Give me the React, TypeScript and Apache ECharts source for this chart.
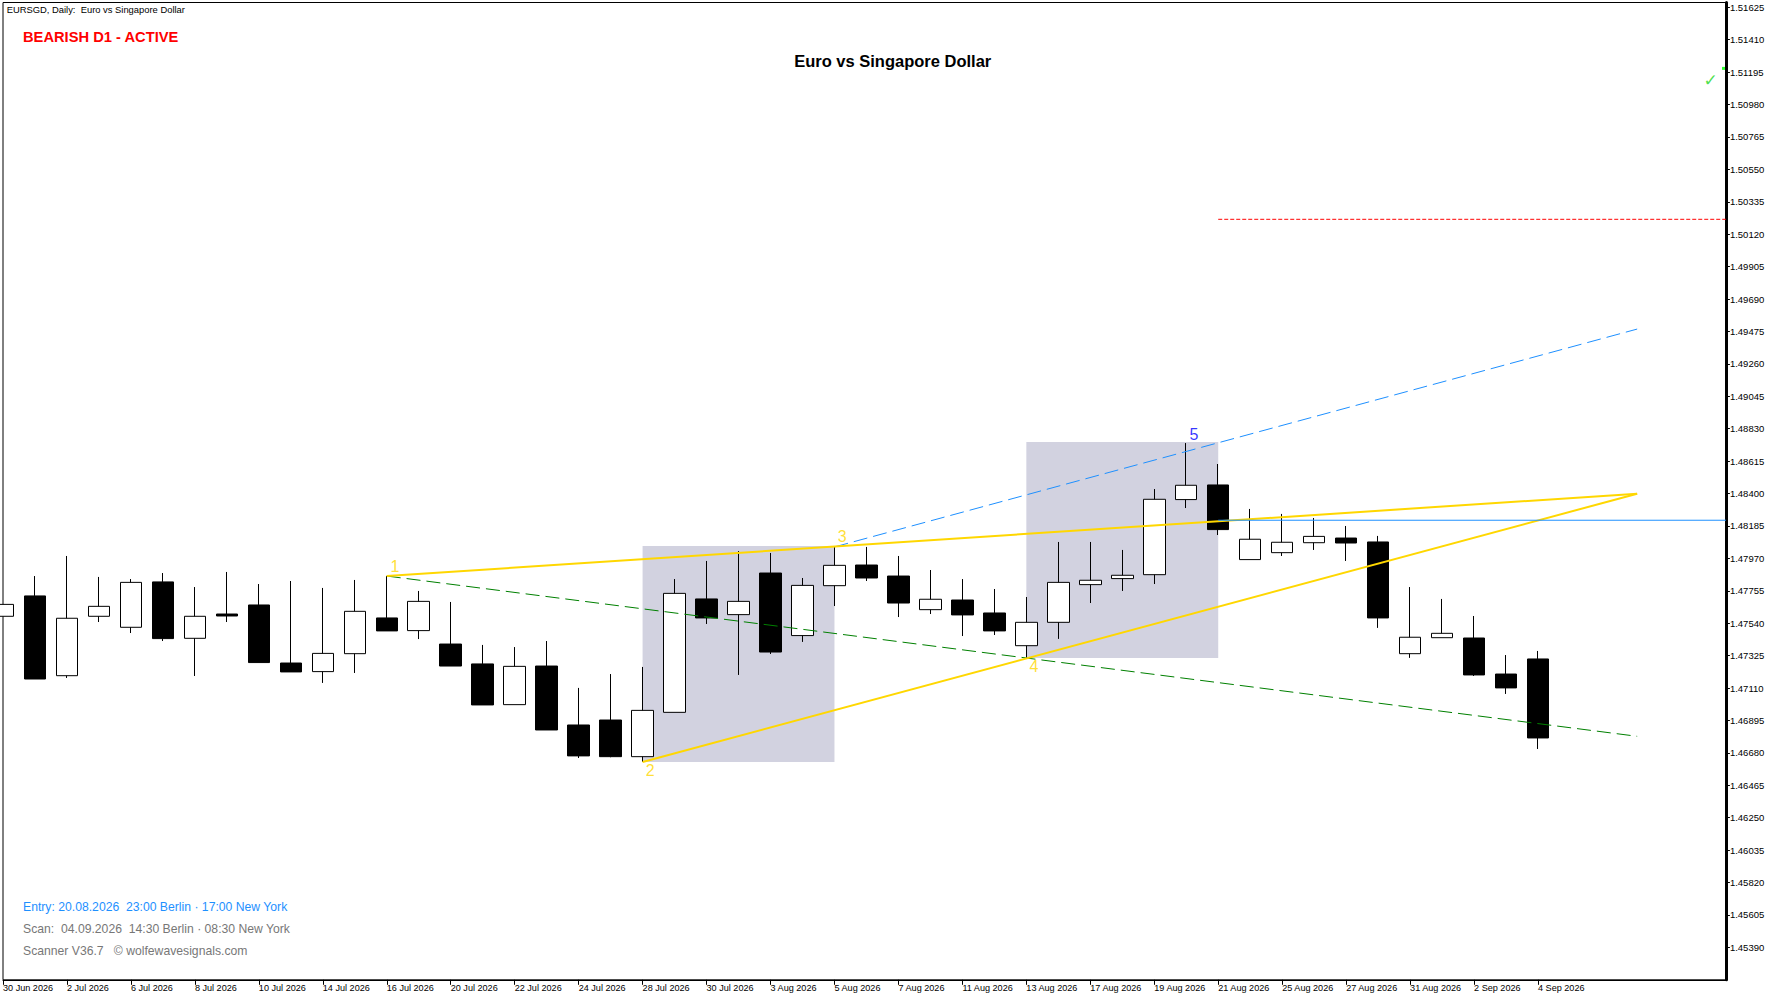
import * as echarts from 'echarts';
import React, { useEffect, useRef } from 'react';

// one label per two bars, bar index = position in this list * 2
const dateLabels = [
  '30 Jun 2026', '2 Jul 2026', '6 Jul 2026', '8 Jul 2026', '10 Jul 2026', '14 Jul 2026', '16 Jul 2026',
  '20 Jul 2026', '22 Jul 2026', '24 Jul 2026', '28 Jul 2026', '30 Jul 2026', '3 Aug 2026', '5 Aug 2026',
  '7 Aug 2026', '11 Aug 2026', '13 Aug 2026', '17 Aug 2026', '19 Aug 2026', '21 Aug 2026', '25 Aug 2026',
  '27 Aug 2026', '31 Aug 2026', '2 Sep 2026', '4 Sep 2026',
];

// open, close, low, high
const candles = [
  [1.47586, 1.47665, 1.47586, 1.47665],
  [1.47721, 1.4717, 1.4717, 1.47853],
  [1.47192, 1.47573, 1.47177, 1.47986],
  [1.47586, 1.47652, 1.47548, 1.47847],
  [1.47513, 1.47811, 1.47475, 1.47833],
  [1.47814, 1.47438, 1.47422, 1.47873],
  [1.4744, 1.47586, 1.4719, 1.4778],
  [1.47601, 1.47588, 1.47548, 1.4788],
  [1.47661, 1.47279, 1.47279, 1.478],
  [1.47276, 1.47217, 1.47217, 1.4782],
  [1.47219, 1.4734, 1.47144, 1.47774],
  [1.47338, 1.47619, 1.4721, 1.47827],
  [1.47575, 1.47489, 1.47489, 1.47853],
  [1.47491, 1.47685, 1.47435, 1.47754],
  [1.47402, 1.47256, 1.47256, 1.47681],
  [1.4727, 1.46998, 1.46998, 1.47396],
  [1.47, 1.47254, 1.47, 1.47382],
  [1.47256, 1.46832, 1.46832, 1.47422],
  [1.46865, 1.4666, 1.46646, 1.47111],
  [1.46898, 1.46655, 1.46651, 1.47203],
  [1.46655, 1.46962, 1.4662, 1.4725],
  [1.46949, 1.47738, 1.46949, 1.47833],
  [1.47701, 1.47575, 1.47535, 1.47953],
  [1.47597, 1.47685, 1.47197, 1.48019],
  [1.47873, 1.47349, 1.47336, 1.48006],
  [1.47458, 1.47791, 1.47416, 1.4784],
  [1.47789, 1.47924, 1.47654, 1.48046],
  [1.47926, 1.4784, 1.4782, 1.48046],
  [1.47853, 1.47674, 1.47581, 1.47986],
  [1.4763, 1.47699, 1.47601, 1.47893],
  [1.47694, 1.47595, 1.47455, 1.47833],
  [1.47608, 1.47489, 1.47462, 1.47767],
  [1.47391, 1.47546, 1.4731, 1.47714],
  [1.47546, 1.47811, 1.47436, 1.48079],
  [1.47796, 1.47825, 1.47674, 1.48079],
  [1.47836, 1.47858, 1.47754, 1.48026],
  [1.47862, 1.48362, 1.478, 1.4843],
  [1.4836, 1.48455, 1.48304, 1.48735],
  [1.48457, 1.48161, 1.48125, 1.48596],
  [1.47962, 1.48097, 1.47962, 1.48298],
  [1.48008, 1.48077, 1.47986, 1.48265],
  [1.48074, 1.48116, 1.48026, 1.48238],
  [1.48105, 1.48072, 1.47953, 1.48185],
  [1.48079, 1.47575, 1.47509, 1.48119],
  [1.47338, 1.47447, 1.4731, 1.4778],
  [1.47444, 1.47473, 1.47444, 1.47701],
  [1.47442, 1.47197, 1.4719, 1.47588],
  [1.47203, 1.47111, 1.47071, 1.47329],
  [1.47303, 1.46779, 1.46706, 1.47356],
];

// pattern lines as [bar, price]
const upperWedge = [[12, 1.47853], [51.1, 1.48399]];
const lowerWedge = [[20, 1.4662], [51.1, 1.48399]];
const blueTarget = [[26, 1.48046], [51.1, 1.49491]];
const greenTarget = [[12, 1.47853], [51.1, 1.4679]];
const entryLine = [[38, 1.48223], [53.875, 1.48223]];
const stopLine = [[38, 1.50219], [53.875, 1.50219]];

// shaded boxes [bar from, price top, bar to, price bottom]
const boxes = [
  [20, 1.48052, 26, 1.4662],
  [32, 1.48742, 38, 1.4731],
];

const waveLabels = [
  { name: '1', value: [12.26, 1.47913], color: '#ffd700' },
  { name: '2', value: [20.24, 1.4656], color: '#ffd700' },
  { name: '3', value: [26.24, 1.48112], color: '#ffd700' },
  { name: '4', value: [32.24, 1.4725], color: '#ffd700' },
  { name: '5', value: [37.24, 1.48795], color: '#0000ff' },
];

const checkMark = [53.4, 1.51145];
const bidDot = [53.8, 1.5122];

const AXIS_FONT = 'Liberation Sans';

const buildOption = () => ({
  animation: false,
  backgroundColor: '#fff',
  grid: {
    left: 1.9,
    top: 2.5,
    width: 1724,
    height: 977.3,
    show: true,
    borderColor: '#000',
    borderWidth: 1,
    backgroundColor: '#fff',
  },
  xAxis: {
    type: 'value',
    min: 0,
    max: 53.875,
    interval: 2,
    splitLine: { show: false },
    axisLine: { lineStyle: { color: '#000', width: 1 } },
    axisTick: {
      length: 5,
      lineStyle: { color: '#000', width: 1 },
      customValues: dateLabels.map((_, i) => i * 2),
    },
    axisLabel: {
      customValues: dateLabels.map((_, i) => i * 2),
      formatter: (v: number) => dateLabels[Math.round(v / 2)] ?? '',
      color: '#000',
      fontFamily: AXIS_FONT,
      fontSize: 9.1,
      align: 'left',
      margin: 4,
    },
  },
  yAxis: {
    type: 'value',
    position: 'right',
    min: 1.45175,
    max: 1.51657,
    interval: 0.00215,
    splitLine: { show: false },
    axisLine: { show: true, onZero: false, lineStyle: { color: '#000', width: 3 } },
    axisTick: { show: true, length: 4, lineStyle: { color: '#000', width: 1 } },
    axisLabel: {
      showMinLabel: false,
      showMaxLabel: false,
      formatter: (v: number) => v.toFixed(5),
      color: '#000',
      fontFamily: AXIS_FONT,
      fontSize: 9.5,
      margin: 4,
    },
  },
  series: [
    {
      // only carries the shaded boxes, under the candles
      type: 'line',
      data: [],
      z: 1,
      markArea: {
        silent: true,
        itemStyle: { color: '#d2d2e0', opacity: 1 },
        data: boxes.map((b) => [{ coord: [b[0], b[1]] }, { coord: [b[2], b[3]] }]),
      },
    },
    {
      type: 'candlestick',
      z: 2,
      barWidth: 22,
      encode: { x: 0, y: [1, 2, 3, 4] },
      data: candles.map((c, i) => [i, c[0], c[1], c[2], c[3]]),
      itemStyle: {
        color: '#fff',
        color0: '#000',
        borderColor: '#000',
        borderColor0: '#000',
        borderWidth: 1,
      },
    },
    {
      type: 'line',
      z: 3,
      symbol: 'none',
      data: greenTarget,
      lineStyle: { color: '#008000', width: 1, type: [14, 6] },
    },
    {
      type: 'line',
      z: 3,
      symbol: 'none',
      data: blueTarget,
      lineStyle: { color: '#1e90ff', width: 1, type: [14, 6] },
    },
    {
      type: 'line',
      z: 4,
      symbol: 'none',
      data: upperWedge,
      lineStyle: { color: '#ffd700', width: 2 },
    },
    {
      type: 'line',
      z: 4,
      symbol: 'none',
      data: lowerWedge,
      lineStyle: { color: '#ffd700', width: 2 },
    },
    {
      type: 'line',
      z: 5,
      symbol: 'none',
      data: entryLine,
      lineStyle: { color: '#1e90ff', width: 1 },
    },
    {
      type: 'line',
      z: 5,
      symbol: 'none',
      data: stopLine,
      lineStyle: { color: '#ff0000', width: 1, type: [4, 2] },
    },
    {
      type: 'scatter',
      z: 6,
      symbolSize: 0,
      data: waveLabels.map((w) => ({
        name: w.name,
        value: w.value,
        label: { color: w.color },
      })),
      label: {
        show: true,
        position: 'inside',
        formatter: '{b}',
        fontFamily: 'Liberation Sans',
        fontSize: 16,
      },
    },
    {
      type: 'scatter',
      z: 6,
      symbolSize: 0,
      data: [{ name: '✓', value: checkMark }],
      label: {
        show: true,
        position: 'inside',
        formatter: '{b}',
        color: '#22d822',
        fontFamily: 'DejaVu Sans',
        fontSize: 17,
      },
    },
    {
      type: 'scatter',
      z: 6,
      symbol: 'rect',
      symbolSize: 3,
      clip: false,
      data: [bidDot],
      itemStyle: { color: '#00ff00' },
    },
  ],
  graphic: [
    {
      type: 'text',
      x: 6.7,
      y: 9.7,
      style: {
        text: 'EURSGD, Daily:  Euro vs Singapore Dollar',
        fill: '#000',
        font: '9.4px "Liberation Sans"',
        verticalAlign: 'middle',
      },
    },
    {
      type: 'text',
      x: 23,
      y: 36.7,
      style: {
        text: 'BEARISH D1 - ACTIVE',
        fill: '#ff0000',
        font: 'bold 14.7px "Liberation Sans"',
        verticalAlign: 'middle',
      },
    },
    {
      type: 'text',
      x: 892.7,
      y: 61.3,
      style: {
        text: 'Euro vs Singapore Dollar',
        fill: '#000',
        font: 'bold 16.5px "Liberation Sans"',
        align: 'center',
        verticalAlign: 'middle',
      },
    },
    {
      type: 'text',
      x: 23,
      y: 906.7,
      style: {
        text: 'Entry: 20.08.2026  23:00 Berlin · 17:00 New York',
        fill: '#1e90ff',
        font: '12.2px "Liberation Sans"',
        verticalAlign: 'middle',
      },
    },
    {
      type: 'text',
      x: 23,
      y: 928.7,
      style: {
        text: 'Scan:  04.09.2026  14:30 Berlin · 08:30 New York',
        fill: '#777777',
        font: '12.2px "Liberation Sans"',
        verticalAlign: 'middle',
      },
    },
    {
      type: 'text',
      x: 23,
      y: 950.7,
      style: {
        text: 'Scanner V36.7   © wolfewavesignals.com',
        fill: '#777777',
        font: '12.2px "Liberation Sans"',
        verticalAlign: 'middle',
      },
    },
  ],
});

const App = () => {
  const chartRef = useRef<HTMLDivElement>(null);

  useEffect(() => {
    if (!chartRef.current) return undefined;
    const chart = echarts.init(chartRef.current, undefined, { renderer: 'svg' });
    chart.setOption(buildOption());
    return () => chart.dispose();
  }, []);

  return <div ref={chartRef} style={{ position: 'fixed', left: 0, top: 0, width: 1778, height: 1000 }} />;
};

export default App;
